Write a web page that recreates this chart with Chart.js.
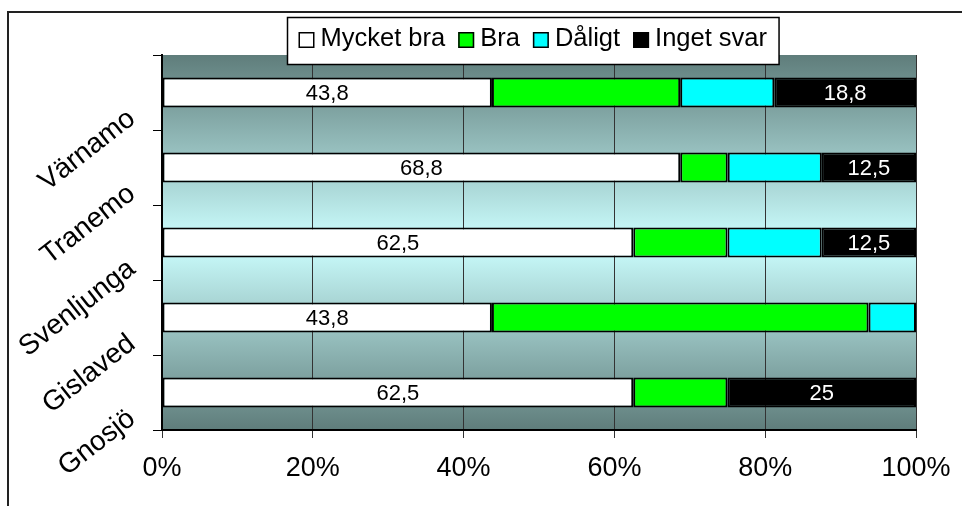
<!DOCTYPE html>
<html>
<head>
<meta charset="utf-8">
<script src="https://cdn.jsdelivr.net/npm/chart.js@4.4.0/dist/chart.umd.min.js"></script>
<style>
  html, body { margin: 0; padding: 0; background: #fff; }
  #wrap { width: 962px; height: 506px; }
</style>
</head>
<body>
<div id="wrap"><canvas id="chart" width="962" height="506"></canvas></div>
<script>
// answers per kommun, in percent (labels shown as in the sheet)
const kommuner = ["Värnamo", "Tranemo", "Svenljunga", "Gislaved", "Gnosjö"];
const mycketBra = [43.8, 68.8, 62.5, 43.8, 62.5];
const bra = [25, 6.3, 12.5, 50, 12.5];
const daligt = [12.5, 12.5, 12.5, 6.3, 0];
const ingetSvar = [18.8, 12.5, 12.5, 0, 25];
const percentTicks = [0, 20, 40, 60, 80, 100];

const FONT = '"Liberation Sans", Arial, sans-serif';

// 100% stacked: scale each row to its own total
const totals = kommuner.map((_, i) => mycketBra[i] + bra[i] + daligt[i] + ingetSvar[i]);
const share = arr => arr.map((v, i) => v / totals[i] * 100);

const series = [
  { label: "Mycket bra", raw: mycketBra, color: "#ffffff", showValue: true, textColor: "#000" },
  { label: "Bra", raw: bra, color: "#00ff00", showValue: false },
  { label: "Dåligt", raw: daligt, color: "#00ffff", showValue: false },
  { label: "Inget svar", raw: ingetSvar, color: "#000000", showValue: true, textColor: "#fff" },
];

const backdrop = {
  id: "backdrop",
  beforeDraw(chart) {
    const { ctx, chartArea: a } = chart;
    ctx.save();
    ctx.fillStyle = "#fff";
    ctx.fillRect(0, 0, chart.width, chart.height);
    // outer frame (only left + top visible)
    ctx.strokeStyle = "#222";
    ctx.lineWidth = 2;
    ctx.beginPath();
    ctx.moveTo(8, chart.height + 5);
    ctx.lineTo(8, 12);
    ctx.lineTo(chart.width + 5, 12);
    ctx.stroke();
    // plot area gradient, dark at edges, light cyan in the middle
    const g = ctx.createLinearGradient(0, a.top, 0, a.bottom);
    g.addColorStop(0, "#5f7d7b");
    g.addColorStop(0.5, "#ccffff");
    g.addColorStop(1, "#5f7d7b");
    ctx.fillStyle = g;
    ctx.fillRect(a.left, a.top, a.right - a.left, a.bottom - a.top);
    ctx.restore();
  },
};

const valueLabels = {
  id: "valueLabels",
  afterDatasetsDraw(chart) {
    const ctx = chart.ctx;
    ctx.save();
    ctx.font = "22px " + FONT;
    ctx.textAlign = "center";
    ctx.textBaseline = "middle";
    series.forEach((s, di) => {
      if (!s.showValue) return;
      chart.getDatasetMeta(di).data.forEach((bar, i) => {
        const v = s.raw[i];
        if (!v) return;
        ctx.fillStyle = s.textColor;
        ctx.fillText(String(v).replace(".", ","), (bar.x + bar.base) / 2, bar.y + 1);
      });
    });
    ctx.restore();
  },
};

const boxLegend = {
  id: "boxLegend",
  afterDraw(chart) {
    const ctx = chart.ctx;
    const left = 287.5, top = 17.5, h = 47;
    ctx.save();
    ctx.font = "25.5px " + FONT;
    let w = 11;
    series.forEach((s, i) => {
      w += 16 + 6 + ctx.measureText(s.label).width + (i < series.length - 1 ? 13 : 12);
    });
    ctx.fillStyle = "#fff";
    ctx.fillRect(left, top, w, h);
    ctx.strokeStyle = "#000";
    ctx.lineWidth = 1.5;
    ctx.strokeRect(left, top, w, h);
    let x = left + 11;
    ctx.textBaseline = "alphabetic";
    ctx.textAlign = "left";
    series.forEach(s => {
      ctx.fillStyle = s.color;
      ctx.fillRect(x, 32, 16, 16);
      ctx.lineWidth = 1.5;
      ctx.strokeStyle = "#000";
      ctx.strokeRect(x + 0.75, 32.75, 14.5, 14.5);
      x += 16 + 6;
      ctx.fillStyle = "#000";
      ctx.fillText(s.label, x, 46);
      x += ctx.measureText(s.label).width + 13;
    });
    ctx.restore();
  },
};

new Chart(document.getElementById("chart"), {
  type: "bar",
  data: {
    labels: kommuner,
    datasets: series.map(s => ({
      label: s.label,
      data: share(s.raw),
      backgroundColor: s.color,
      borderColor: "#000",
      borderWidth: 2,
      borderSkipped: false,
      barPercentage: 0.4,
      categoryPercentage: 1,
    })),
  },
  options: {
    indexAxis: "y",
    responsive: false,
    animation: false,
    layout: { padding: { top: 55, right: 46, bottom: 0, left: 0 } },
    plugins: {
      legend: { display: false },
      tooltip: { enabled: false },
    },
    scales: {
      x: {
        stacked: true,
        min: 0,
        max: 100,
        afterBuildTicks: s => { s.ticks = percentTicks.map(v => ({ value: v })); },
        afterFit: s => { s.height = 76; s.paddingLeft = 0; s.paddingRight = 0; },
        grid: { color: "#333", lineWidth: 1, tickLength: 8 },
        border: { color: "#000", width: 2 },
        ticks: {
          callback: v => v + "%",
          color: "#000",
          font: { size: 27, family: FONT },
          padding: 14,
          maxRotation: 0,
        },
      },
      y: {
        stacked: true,
        afterFit: s => { s.width = 162; },
        grid: { offset: true, drawOnChartArea: false, color: "#000", tickLength: 9 },
        border: { color: "#000", width: 2 },
        ticks: {
          color: "#000",
          font: { size: 28, family: FONT },
          minRotation: 38,
          maxRotation: 38,
          labelOffset: 23,
          padding: 21,
        },
      },
    },
  },
  plugins: [backdrop, valueLabels, boxLegend],
});
</script>
</body>
</html>
